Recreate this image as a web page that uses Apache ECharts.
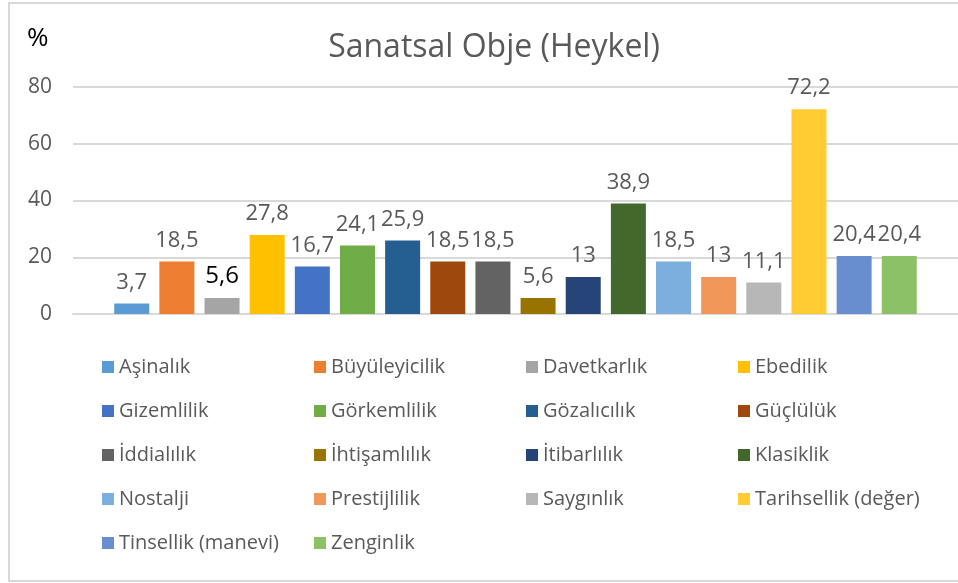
<!DOCTYPE html>
<html>
<head>
<meta charset="utf-8">
<script src="https://cdn.jsdelivr.net/npm/echarts@6/dist/echarts.min.js"></script>
<style>
  html, body { margin: 0; padding: 0; background: #fff; }
  #chart { width: 958px; height: 583px; }
</style>
</head>
<body>
<div id="chart"></div>
<script>
// series names and values (%), one bar per series
const names = ['Aşinalık', 'Büyüleyicilik', 'Davetkarlık', 'Ebedilik', 'Gizemlilik', 'Görkemlilik',
  'Gözalıcılık', 'Güçlülük', 'İddialılık', 'İhtişamlılık', 'İtibarlılık', 'Klasiklik',
  'Nostalji', 'Prestijlilik', 'Saygınlık', 'Tarihsellik (değer)', 'Tinsellik (manevi)', 'Zenginlik'];
const values = [3.7, 18.5, 5.6, 27.8, 16.7, 24.1, 25.9, 18.5, 18.5, 5.6, 13, 38.9, 18.5, 13, 11.1, 72.2, 20.4, 20.4];
const colors = ['#5B9BD5', '#ED7D31', '#A5A5A5', '#FFC000', '#4472C4', '#70AD47', '#255E91', '#9E480E',
  '#636363', '#997300', '#264478', '#43682B', '#7CAFDD', '#F1975A', '#B7B7B7', '#FFCD33', '#698ED0', '#8CC168'];
const yTicks = [0, 20, 40, 60, 80];

const textFont = '"Open Sans", "DejaVu Sans", sans-serif';

let chart = echarts.init(document.getElementById('chart'));

// legend laid out in 4 columns, row-wise like the original
let legendCols = [[], [], [], []];
names.forEach((n, i) => { legendCols[i % 4].push(n); });
const colLeft = [97, 309, 521, 733];

chart.setOption({
  animation: false,
  color: colors,
  title: [
    {
      text: 'Sanatsal Obje (Heykel)',
      left: 489,
      textAlign: 'center',
      top: 27,
      textStyle: { fontFamily: textFont, fontSize: 32, fontWeight: 'normal', color: '#595959' }
    },
    {
      text: '%',
      left: 22,
      top: 21,
      textStyle: { fontFamily: textFont, fontSize: 26, fontWeight: 'normal', color: '#000' }
    }
  ],
  graphic: [
    {
      type: 'rect',
      shape: { x: 9, y: 3, width: 960, height: 578 },
      style: { fill: 'none', stroke: '#D9D9D9', lineWidth: 2 },
      silent: true
    }
  ],
  legend: legendCols.map((col, c) => ({
    data: col,
    orient: 'vertical',
    left: colLeft[c],
    top: 352,
    itemWidth: 12,
    itemHeight: 12,
    itemGap: 24,
    icon: 'rect',
    textStyle: { fontFamily: textFont, fontSize: 20, lineHeight: 20, color: '#595959' }
  })),
  grid: { left: 73, right: -3, top: 87, bottom: 269 },
  xAxis: {
    type: 'category',
    data: [''],
    axisLine: { show: true, lineStyle: { color: '#D9D9D9', width: 2 } },
    axisTick: { show: false },
    axisLabel: { show: false }
  },
  yAxis: {
    type: 'value',
    min: yTicks[0],
    max: yTicks[yTicks.length - 1],
    interval: 20,
    axisLine: { show: false },
    axisTick: { show: false },
    splitLine: { lineStyle: { color: '#D9D9D9', width: 2 } },
    axisLabel: { fontFamily: textFont, fontSize: 21, color: '#595959', margin: 21 }
  },
  series: names.map((n, i) => ({
    name: n,
    type: 'bar',
    barWidth: 35,
    barGap: '29%',
    data: [values[i]],
    label: {
      show: true,
      position: 'top',
      distance: 10,
      formatter: p => String(p.value).replace('.', ','),
      fontFamily: textFont,
      fontSize: i === 2 ? 24 : 22,
      color: i === 2 ? '#000' : '#595959'
    }
  }))
});
</script>
</body>
</html>
